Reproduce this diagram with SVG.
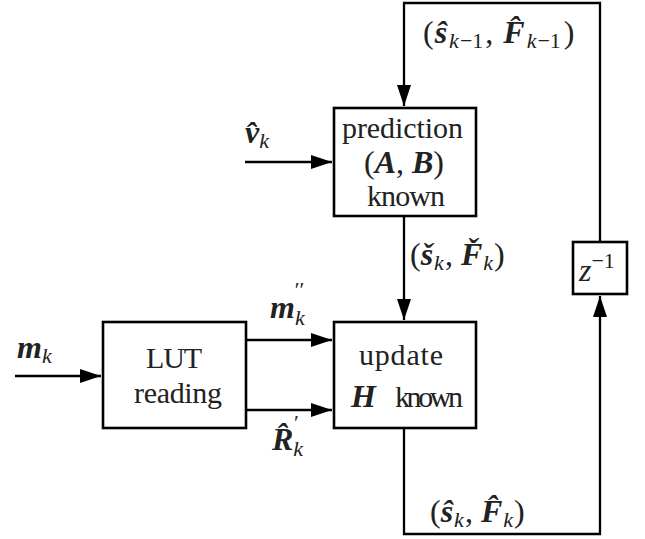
<svg xmlns="http://www.w3.org/2000/svg" width="645" height="539" viewBox="0 0 645 539">
  <style>
    .box { fill: #fff; stroke: #000; stroke-width: 2.6; }
    .wire { fill: none; stroke: #000; stroke-width: 2.3; }
    .t { font-family: "Liberation Serif", "DejaVu Serif", serif; font-size: 30px; fill: #222; }
    .m { font-family: "Liberation Serif", "DejaVu Serif", serif; font-size: 32px; fill: #222; }
    .v { font-weight: bold; font-style: italic; }
    .sub { font-style: italic; font-size: 22px; }
    .sup { font-size: 22px; }
  </style>
  <defs>
    <marker id="arrow" markerUnits="userSpaceOnUse" markerWidth="22" markerHeight="14" refX="21" refY="7" orient="auto">
      <path d="M0,0 L21,7 L0,14 Z" fill="#000"/>
    </marker>
  </defs>

  <!-- connectors -->
  <g id="connectors">
    <path class="wire" d="M600,242 V3 H404 V106" marker-end="url(#arrow)"/>
    <path class="wire" d="M404,216 V320" marker-end="url(#arrow)"/>
    <path class="wire" d="M404,428 V534 H600 V296" marker-end="url(#arrow)"/>
    <path class="wire" d="M245,162 H332" marker-end="url(#arrow)"/>
    <path class="wire" d="M15,376 H101" marker-end="url(#arrow)"/>
    <path class="wire" d="M246,340 H332" marker-end="url(#arrow)"/>
    <path class="wire" d="M246,410 H332" marker-end="url(#arrow)"/>
  </g>

  <!-- prediction block -->
  <g id="prediction">
    <rect class="box" x="334" y="108" width="142" height="108"/>
    <text class="t" x="342" y="138" textLength="121" lengthAdjust="spacing">prediction</text>
    <text class="m" x="404" y="173" text-anchor="middle">(<tspan class="v">A</tspan>, <tspan class="v">B</tspan>)</text>
    <text class="t" x="367" y="206" textLength="78" lengthAdjust="spacing">known</text>
  </g>

  <!-- update block -->
  <g id="update">
    <rect class="box" x="334" y="322" width="142" height="106"/>
    <text class="t" x="359" y="365" textLength="84" lengthAdjust="spacing">update</text>
    <text class="t" x="351" y="407"><tspan class="v" font-size="32">H</tspan><tspan x="395" textLength="68" lengthAdjust="spacing">known</tspan></text>
  </g>

  <!-- LUT block -->
  <g id="lut">
    <rect class="box" x="103" y="322" width="143" height="106"/>
    <text class="t" x="146" y="368" textLength="56" lengthAdjust="spacing">LUT</text>
    <text class="t" x="134" y="403" textLength="88" lengthAdjust="spacing">reading</text>
  </g>

  <!-- unit delay -->
  <g id="delay">
    <rect class="box" x="573" y="242" width="54" height="52"/>
    <text class="m" x="579" y="281"><tspan font-style="italic">z</tspan><tspan class="sup" dy="-13">−1</tspan></text>
  </g>

  <!-- signal labels -->
  <g id="labels">
    <text class="m" x="423" y="43">(<tspan class="v" dx="1">ŝ</tspan><tspan class="sub" dx="2" dy="5">k</tspan><tspan class="sup" dx="1">−1</tspan><tspan dx="2" dy="-5">, </tspan><tspan class="v" dx="2">F̂</tspan><tspan class="sub" dx="2" dy="5">k</tspan><tspan class="sup" dx="1">−1</tspan><tspan dx="3" dy="-5">)</tspan></text>
    <text class="m" x="245" y="143"><tspan class="v">v̂</tspan><tspan class="sub" dy="5">k</tspan></text>
    <text class="m" x="410" y="265">(<tspan class="v">š</tspan><tspan class="sub" dx="1" dy="5">k</tspan><tspan dx="1" dy="-5">, </tspan><tspan class="v">F̌</tspan><tspan class="sub" dx="1" dy="5">k</tspan><tspan dx="1" dy="-5">)</tspan></text>
    <text class="m" x="17" y="358"><tspan class="v">m</tspan><tspan class="sub" dy="5">k</tspan></text>
    <text class="m" x="270" y="318"><tspan class="v">m</tspan><tspan class="sub" dy="7">k</tspan><tspan class="sup" dx="-10" dy="-28">′′</tspan></text>
    <text class="m" x="272" y="450"><tspan class="v">R̂</tspan><tspan class="sub" dy="6">k</tspan><tspan class="sup" dx="-9" dy="-26">′</tspan></text>
    <text class="m" x="430" y="522">(<tspan class="v">ŝ</tspan><tspan class="sub" dx="1" dy="5">k</tspan><tspan dx="1" dy="-5">, </tspan><tspan class="v">F̂</tspan><tspan class="sub" dx="1" dy="5">k</tspan><tspan dx="1" dy="-5">)</tspan></text>
  </g>
</svg>
